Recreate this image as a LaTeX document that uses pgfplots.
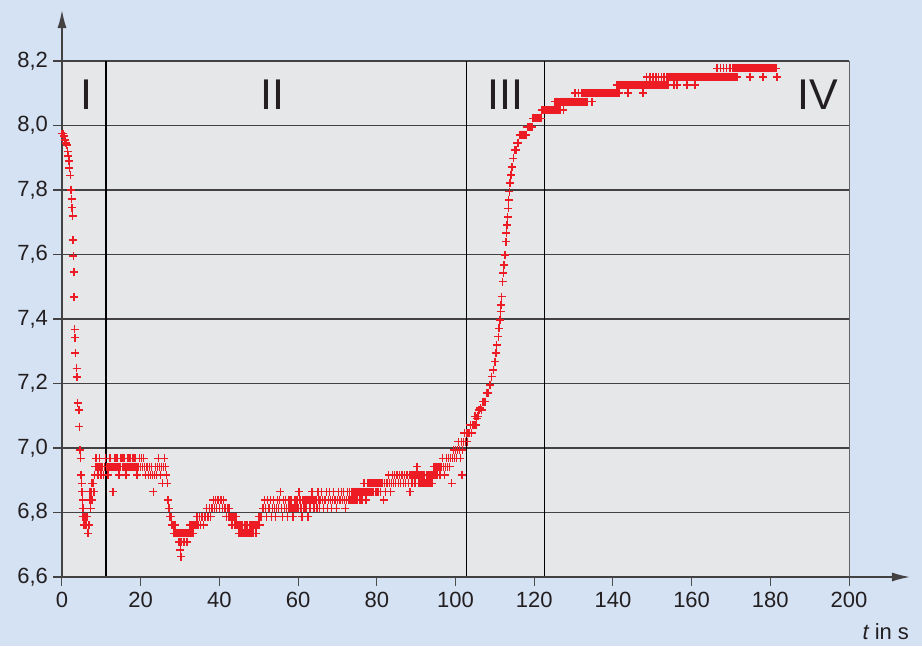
\documentclass[border=0pt]{standalone}
\usepackage{fontspec}
\setmainfont{Liberation Sans}
\usepackage{pgfplots}
\pgfplotsset{compat=1.18}
\usetikzlibrary{arrows.meta}
\definecolor{bgblue}{RGB}{213,226,244}
\definecolor{plotgray}{RGB}{230,231,233}
\definecolor{pred}{RGB}{237,28,36}
\definecolor{ink}{RGB}{35,31,32}
\begin{document}
\begin{tikzpicture}
\useasboundingbox (-62pt,-69pt) rectangle (860pt,577pt);
\fill[bgblue] (-62pt,-69pt) rectangle (860pt,577pt);
\begin{axis}[
  at={(0,0)}, anchor=south west,
  scale only axis, width=787pt, height=516pt,
  xmin=0, xmax=200, ymin=6.6, ymax=8.2,
  clip=false,
  axis background/.style={fill=plotgray},
  axis x line*=bottom, axis y line*=left,
  axis line style={draw=none},
  xtick={0,20,40,60,80,100,120,140,160,180,200},
  ytick={6.6,6.8,7.0,7.2,7.4,7.6,7.8,8.0,8.2},
  ymajorgrids,
  grid style={ink!85, line width=1.2pt},
  tick align=outside,
  major tick length=8.5pt,
  xtick style={ink!80, line width=1pt},
  ytick style={ink!85, line width=1.2pt},
  tick label style={font=\fontsize{22}{24}\selectfont, text=ink},
  /pgf/number format/assume math mode=true,
  xticklabel style={yshift=-3pt},
  yticklabel style={xshift=-2pt, /pgf/number format/fixed, /pgf/number format/fixed zerofill, /pgf/number format/precision=1, /pgf/number format/use comma, /pgf/number format/assume math mode=true},
]
% region boundaries
\addplot[black, line width=1.2pt, mark=none] coordinates {(11.2,6.6) (11.2,8.2)};
\addplot[black, line width=1.2pt, mark=none] coordinates {(102.7,6.6) (102.7,8.2)};
\addplot[black, line width=1.2pt, mark=none] coordinates {(122.7,6.6) (122.7,8.2)};
\addplot[ink!70, line width=0.8pt, mark=none] coordinates {(200,6.6) (200,8.2)};

% region I and II
\addplot[only marks, mark=+, color=pred, mark size=4pt, mark options={color=pred, line width=1.5pt}] coordinates {
(0,7.975)(0.2,7.975)(0.4,7.968)(0.6,7.968)(0.8,7.955)(1.0,7.945)(1.2,7.94)(1.4,7.92)(1.6,7.905)(1.8,7.89)(1.9,7.868)(2.1,7.845)(2.3,7.80)(2.45,7.772)(2.6,7.745)(2.7,7.72)(2.75,7.645)(2.9,7.595)(3.0,7.545)(3.05,7.468)(3.2,7.368)(3.3,7.342)(3.4,7.294)(3.7,7.247)(3.8,7.22)(4.0,7.14)(4.3,7.118)(4.4,7.066)(4.6,6.994)(4.75,6.968)(4.8,6.916)(5.0,6.89)(5.1,6.865)(5.25,6.839)(5.3,6.813)(5.4,6.787)(5.6,6.761)(5.8,6.787)(6.0,6.761)(6.2,6.761)(6.4,6.787)(6.6,6.735)(6.8,6.761)(7.0,6.839)(7.1,6.865)(7.2,6.839)(7.3,6.813)(7.4,6.839)(7.5,6.865)(7.6,6.890)(7.7,6.839)(7.9,6.89)(8.1,6.865)(8.3,6.916)(8.5,6.942)(8.7,6.968)(8.9,6.942)(9.1,6.916)(9.3,6.942)(9.5,6.968)(9.7,6.942)(9.9,6.916)
(10.00,6.942)(10.25,6.942)(10.50,6.916)(10.75,6.942)(11.00,6.968)(11.25,6.942)(11.50,6.942)(11.75,6.916)(12.00,6.942)(12.25,6.968)(12.50,6.942)(12.75,6.942)(13.00,6.865)(13.25,6.942)(13.50,6.968)(13.75,6.942)(14.00,6.968)(14.25,6.942)(14.50,6.916)(14.75,6.942)(15.00,6.968)(15.25,6.968)(15.50,6.942)(15.75,6.968)(16.00,6.942)(16.25,6.916)(16.50,6.942)(16.75,6.968)(17.00,6.942)(17.25,6.968)(17.50,6.942)(17.75,6.942)(18.00,6.968)(18.25,6.942)(18.50,6.968)(18.75,6.942)(19.00,6.916)(19.25,6.942)(19.50,6.942)(19.75,6.968)(20.00,6.942)(20.25,6.968)(20.50,6.942)(20.75,6.968)(21.00,6.942)(21.25,6.916)(21.50,6.942)(21.75,6.942)(22.00,6.916)(22.25,6.942)(22.50,6.916)(22.75,6.942)(23.00,6.916)(23.25,6.865)(23.50,6.916)(23.75,6.942)(24.00,6.916)(24.25,6.942)(24.50,6.968)(24.75,6.942)(25.00,6.916)(25.25,6.942)(25.50,6.890)(25.75,6.942)(26.00,6.968)(26.25,6.942)(26.50,6.916)(26.75,6.890)
(27.00,6.839)(27.25,6.813)(27.50,6.787)(27.75,6.787)(28.00,6.761)(28.25,6.761)(28.50,6.735)(28.75,6.761)(29.00,6.735)(29.25,6.735)(29.50,6.735)(29.75,6.709)(30.00,6.735)(30.10,6.684)(30.20,6.663)(30.25,6.709)(30.50,6.735)(30.75,6.735)(31.00,6.709)(31.25,6.735)(31.50,6.735)(31.75,6.709)(32.00,6.735)(32.25,6.735)(32.50,6.761)(32.75,6.735)(33.00,6.761)(33.25,6.735)(33.50,6.761)(33.75,6.761)(34.00,6.761)(34.25,6.787)(34.50,6.761)(34.75,6.761)(35.00,6.787)(35.25,6.761)(35.50,6.787)(35.75,6.787)(36.00,6.761)(36.25,6.787)(36.50,6.787)(36.75,6.813)(37.00,6.787)(37.25,6.787)(37.50,6.813)(37.75,6.787)(38.00,6.813)(38.25,6.813)(38.50,6.839)(38.75,6.813)(39.00,6.839)(39.25,6.813)(39.50,6.839)(39.75,6.839)(40.00,6.813)(40.25,6.839)(40.50,6.839)(40.75,6.813)(41.00,6.839)(41.25,6.813)(41.50,6.813)(41.75,6.787)(42.00,6.813)(42.25,6.787)(42.50,6.813)(42.75,6.787)(43.00,6.787)(43.25,6.761)(43.50,6.787)(43.75,6.787)(44.00,6.761)(44.25,6.787)(44.50,6.761)(44.75,6.761)(45.00,6.735)(45.25,6.761)(45.50,6.735)(45.75,6.761)(46.00,6.735)(46.25,6.735)(46.50,6.761)(46.75,6.735)(47.00,6.761)(47.25,6.735)(47.50,6.735)(47.75,6.761)(48.00,6.735)(48.25,6.761)(48.50,6.735)(48.75,6.761)(49.00,6.761)(49.25,6.735)(49.50,6.761)(49.75,6.761)(50.00,6.787)(50.25,6.761)(50.50,6.787)(50.75,6.787)(51.00,6.813)
(51.25,6.813)(51.50,6.839)(51.75,6.813)(52.00,6.787)(52.25,6.839)(52.50,6.813)(52.75,6.813)(53.00,6.839)(53.25,6.787)(53.50,6.813)(53.75,6.839)(54.00,6.813)(54.25,6.787)(54.50,6.813)(54.75,6.839)(55.00,6.813)(55.25,6.839)(55.50,6.865)(55.75,6.813)(56.00,6.787)(56.25,6.839)(56.50,6.813)(56.75,6.839)(57.00,6.813)(57.25,6.787)(57.50,6.813)(57.75,6.839)(58.00,6.813)(58.25,6.839)(58.50,6.813)(58.75,6.787)(59.00,6.813)(59.25,6.839)(59.50,6.813)(59.75,6.839)(60.00,6.813)(60.25,6.865)(60.50,6.839)(60.75,6.813)(61.00,6.787)(61.25,6.839)(61.50,6.813)(61.75,6.839)(62.00,6.813)(62.25,6.839)(62.50,6.787)
(62.75,6.839)(63.00,6.813)(63.25,6.839)(63.50,6.865)(63.75,6.839)(64.00,6.813)(64.25,6.839)(64.50,6.839)(64.75,6.813)(65.00,6.865)(65.25,6.839)(65.50,6.813)(65.75,6.839)(66.00,6.865)(66.25,6.839)(66.50,6.813)(66.75,6.839)(67.00,6.839)(67.25,6.865)(67.50,6.813)(67.75,6.839)(68.00,6.865)(68.25,6.839)(68.50,6.813)(68.75,6.839)(69.00,6.865)(69.25,6.839)(69.50,6.839)(69.75,6.813)(70.00,6.839)
(70.25,6.865)(70.50,6.839)(70.75,6.839)(71.00,6.865)(71.25,6.839)(71.50,6.865)(71.75,6.839)(72.00,6.813)(72.25,6.839)(72.50,6.865)(72.75,6.839)(73.00,6.865)(73.25,6.839)(73.50,6.839)(73.75,6.865)(74.00,6.839)(74.25,6.865)(74.50,6.839)(74.75,6.865)(75.00,6.839)(75.25,6.865)(75.50,6.865)(75.75,6.839)(76.00,6.865)(76.25,6.839)(76.50,6.865)(76.75,6.890)(77.00,6.865)(77.25,6.839)(77.50,6.865)(77.75,6.890)
(78.00,6.865)(78.25,6.890)(78.50,6.865)(78.75,6.890)(79.00,6.865)(79.25,6.890)(79.50,6.890)(79.75,6.865)(80.00,6.890)(80.25,6.865)(80.50,6.890)(80.75,6.890)(81.00,6.865)(81.25,6.890)(81.50,6.890)(81.75,6.839)(82.00,6.890)(82.25,6.865)(82.50,6.890)(82.75,6.890)(83.00,6.916)(83.25,6.890)(83.50,6.865)(83.75,6.890)(84.00,6.916)
(84.25,6.890)(84.50,6.916)(84.75,6.890)(85.00,6.916)(85.25,6.916)(85.50,6.890)(85.75,6.916)(86.00,6.890)(86.25,6.916)(86.50,6.916)(86.75,6.890)(87.00,6.916)(87.25,6.890)(87.50,6.916)(87.75,6.916)(88.00,6.890)(88.25,6.916)(88.50,6.865)(88.75,6.916)(89.00,6.890)(89.25,6.916)(89.50,6.916)(89.75,6.890)(90.00,6.916)(90.25,6.942)(90.50,6.916)(90.75,6.890)(91.00,6.916)(91.25,6.890)(91.50,6.916)(91.75,6.890)(92.00,6.916)(92.25,6.890)(92.50,6.890)(92.75,6.916)(93.00,6.890)(93.25,6.916)(93.50,6.890)(93.75,6.916)(94.00,6.890)
(94.25,6.916)(94.50,6.942)(94.75,6.916)(95.00,6.942)(95.25,6.916)(95.50,6.942)(95.75,6.942)(96.00,6.916)(96.25,6.942)(96.50,6.942)(96.75,6.968)(97.00,6.942)(97.25,6.916)(97.50,6.942)(97.75,6.968)(98.00,6.942)(98.25,6.968)(98.50,6.942)(98.75,6.968)(99.00,6.890)
(99.25,6.968)(99.50,6.994)(99.75,6.968)(100.00,6.994)(100.25,6.968)(100.50,6.994)(100.75,7.020)(101.00,6.994)(101.25,6.968)(101.50,7.020)(101.60,6.916)(101.75,6.994)(102.00,7.020)(102.25,7.046)(102.50,7.020)
};

% region III and IV
\addplot[only marks, mark=+, color=pred, mark size=4pt, mark options={color=pred, line width=1.5pt}] coordinates {
(102.84,7.046)(103.0,7.020)(103.2,7.046)(103.5,7.046)(103.8,7.072)(104.1,7.046)(104.4,7.072)(104.7,7.072)(105.0,7.098)(105.2,7.072)(105.38,7.092)(105.7,7.098)(106.0,7.118)(106.3,7.124)(106.65,7.118)(107.0,7.144)(107.3,7.144)(107.5,7.144)(107.9,7.170)(108.1,7.170)(108.34,7.170)(108.77,7.195)(109.19,7.221)(109.61,7.242)(110.04,7.268)(110.29,7.294)(110.46,7.319)(110.88,7.345)(111.05,7.371)(111.31,7.397)(111.48,7.423)(111.56,7.443)(111.73,7.469)(111.99,7.516)(112.16,7.542)(112.33,7.567)(112.58,7.598)(112.83,7.640)(112.92,7.666)(113.09,7.691)(113.26,7.717)(113.43,7.743)(113.51,7.769)(113.68,7.795)(113.85,7.821)(114.10,7.846)(114.36,7.872)(114.70,7.898)(115.12,7.924)(115.5,7.924)(115.72,7.945)(116.0,7.945)(116.39,7.971)(116.8,7.971)(117.2,7.971)(117.66,7.971)(118.0,7.971)
(118.25,7.996)(118.50,7.996)(118.75,7.996)(119.00,7.996)(119.25,7.996)(119.50,7.996)
(119.75,8.022)(120.00,8.022)(120.25,8.022)(120.50,8.022)(120.75,8.022)(121.00,8.022)(121.25,8.022)(121.50,8.022)(121.75,8.022)
(122.00,8.048)(122.25,8.048)(122.50,8.048)(122.75,8.048)(123.00,8.048)(123.25,8.048)(123.50,8.048)(123.75,8.048)(124.00,8.048)(124.25,8.048)(124.50,8.048)(124.75,8.048)(125.00,8.048)(125.25,8.048)(125.50,8.048)(125.75,8.048)(126.00,8.048)(126.25,8.048)(126.50,8.048)(127.40,8.048)
(125.30,8.074)(125.80,8.074)(126.20,8.074)(126.60,8.074)(126.85,8.074)(127.10,8.074)(127.35,8.074)(127.60,8.074)(127.85,8.074)(128.10,8.074)(128.35,8.074)(128.60,8.074)(128.85,8.074)(129.10,8.074)(129.35,8.074)(129.60,8.074)(129.85,8.074)(130.10,8.074)(130.35,8.074)(130.60,8.074)(130.85,8.074)(131.10,8.074)(131.35,8.074)(131.60,8.074)(131.85,8.074)(132.10,8.074)(132.35,8.074)(132.60,8.074)(132.85,8.074)(133.10,8.074)(133.35,8.074)(133.60,8.074)(134.70,8.074)
(130.40,8.100)(131.20,8.100)(132.00,8.100)(132.40,8.100)(132.65,8.100)(132.90,8.100)(133.15,8.100)(133.40,8.100)(133.65,8.100)(133.90,8.100)(134.15,8.100)(134.40,8.100)(134.65,8.100)(134.90,8.100)(135.15,8.100)(135.40,8.100)(135.65,8.100)(135.90,8.100)(136.15,8.100)(136.40,8.100)(136.65,8.100)(136.90,8.100)(137.15,8.100)(137.40,8.100)(137.65,8.100)(137.90,8.100)(138.15,8.100)(138.40,8.100)(138.65,8.100)(138.90,8.100)(139.15,8.100)(139.40,8.100)(139.65,8.100)(139.90,8.100)(140.15,8.100)(140.40,8.100)(140.65,8.100)(140.90,8.100)(141.15,8.100)(141.40,8.100)(141.65,8.100)(143.80,8.100)(147.60,8.100)
(141.00,8.126)(141.25,8.126)(141.50,8.126)(141.75,8.126)(142.00,8.126)(142.25,8.126)(142.50,8.126)(142.75,8.126)(143.00,8.126)(143.25,8.126)(143.50,8.126)(143.75,8.126)(144.00,8.126)(144.25,8.126)(144.50,8.126)(144.75,8.126)(145.00,8.126)(145.25,8.126)(145.50,8.126)(145.75,8.126)(146.00,8.126)(146.25,8.126)(146.50,8.126)(146.75,8.126)(147.00,8.126)(147.25,8.126)(147.50,8.126)(147.75,8.126)(148.00,8.126)(148.25,8.126)(148.50,8.126)(148.75,8.126)(149.00,8.126)(149.25,8.126)(149.50,8.126)(149.75,8.126)(150.00,8.126)(150.25,8.126)(150.50,8.126)(150.75,8.126)(151.00,8.126)(151.25,8.126)(151.50,8.126)(151.75,8.126)(152.00,8.126)(152.25,8.126)(152.50,8.126)(152.75,8.126)(153.00,8.126)(153.25,8.126)(153.50,8.126)(153.75,8.126)(154.00,8.126)(155.50,8.126)(156.30,8.126)(158.80,8.126)(160.90,8.126)
(148.60,8.151)(149.40,8.151)(150.20,8.151)(150.90,8.151)(151.60,8.151)(152.30,8.151)(153.00,8.151)
(153.75,8.151)(154.00,8.151)(154.25,8.151)(154.50,8.151)(154.75,8.151)(155.00,8.151)(155.25,8.151)(155.50,8.151)(155.75,8.151)(156.00,8.151)(156.25,8.151)(156.50,8.151)(156.75,8.151)(157.00,8.151)(157.25,8.151)(157.50,8.151)(157.75,8.151)(158.00,8.151)(158.25,8.151)(158.50,8.151)(158.75,8.151)(159.00,8.151)(159.25,8.151)(159.50,8.151)(159.75,8.151)(160.00,8.151)(160.25,8.151)(160.50,8.151)(160.75,8.151)(161.00,8.151)(161.25,8.151)(161.50,8.151)(161.75,8.151)(162.00,8.151)(162.25,8.151)(162.50,8.151)(162.75,8.151)(163.00,8.151)(163.25,8.151)(163.50,8.151)(163.75,8.151)(164.00,8.151)(164.25,8.151)(164.50,8.151)(164.75,8.151)(165.00,8.151)(165.25,8.151)(165.50,8.151)(165.75,8.151)(166.00,8.151)(166.25,8.151)(166.50,8.151)(166.75,8.151)(167.00,8.151)(167.25,8.151)(167.50,8.151)(167.75,8.151)(168.00,8.151)(168.25,8.151)(168.50,8.151)(168.75,8.151)(169.00,8.151)(169.25,8.151)(169.50,8.151)(169.75,8.151)(170.00,8.151)(170.25,8.151)(170.50,8.151)(170.75,8.151)(171.00,8.151)(171.25,8.151)(171.50,8.151)(174.80,8.151)(178.20,8.151)(181.70,8.151)
(166.50,8.177)(167.30,8.177)(168.10,8.177)(168.90,8.177)(169.70,8.177)
(170.50,8.177)(170.75,8.177)(171.00,8.177)(171.25,8.177)(171.50,8.177)(171.75,8.177)(172.00,8.177)(172.25,8.177)(172.50,8.177)(172.75,8.177)(173.00,8.177)(173.25,8.177)(173.50,8.177)(173.75,8.177)(174.00,8.177)(174.25,8.177)(174.50,8.177)(174.75,8.177)(175.00,8.177)(175.25,8.177)(175.50,8.177)(175.75,8.177)(176.00,8.177)(176.25,8.177)(176.50,8.177)(176.75,8.177)(177.00,8.177)(177.25,8.177)(177.50,8.177)(177.75,8.177)(178.00,8.177)(178.25,8.177)(178.50,8.177)(178.75,8.177)(179.00,8.177)(179.25,8.177)(179.50,8.177)(179.75,8.177)(180.00,8.177)(180.25,8.177)(180.50,8.177)(180.75,8.177)(181.00,8.177)(181.25,8.177)(181.50,8.177)
};

% axis arrows
\draw[ink!85, line width=1.5pt, -{Latex[length=18pt,width=9pt]}] (axis cs:0,6.6) -- (axis cs:0,8.358);
\draw[ink!85, line width=1.5pt, -{Latex[length=18pt,width=9pt]}] (axis cs:0,6.6) -- (axis cs:215.5,6.6);

% region labels
\node[text=ink, font=\fontsize{43}{43}\selectfont] at (axis cs:6.1,8.095) {I};
\node[text=ink, font=\fontsize{43}{43}\selectfont] at (axis cs:53.4,8.095) {II};
\node[text=ink, font=\fontsize{43}{43}\selectfont] at (axis cs:112.6,8.095) {III};
\node[text=ink, font=\fontsize{43}{43}\selectfont] at (axis cs:192.1,8.095) {IV};

% axis label
\node[text=ink, anchor=base east, inner sep=0pt, font=\fontsize{22}{22}\selectfont] at (axis cs:215.3,6.405) {\itshape t\upshape{} in s};
\end{axis}
\end{tikzpicture}
\end{document}
